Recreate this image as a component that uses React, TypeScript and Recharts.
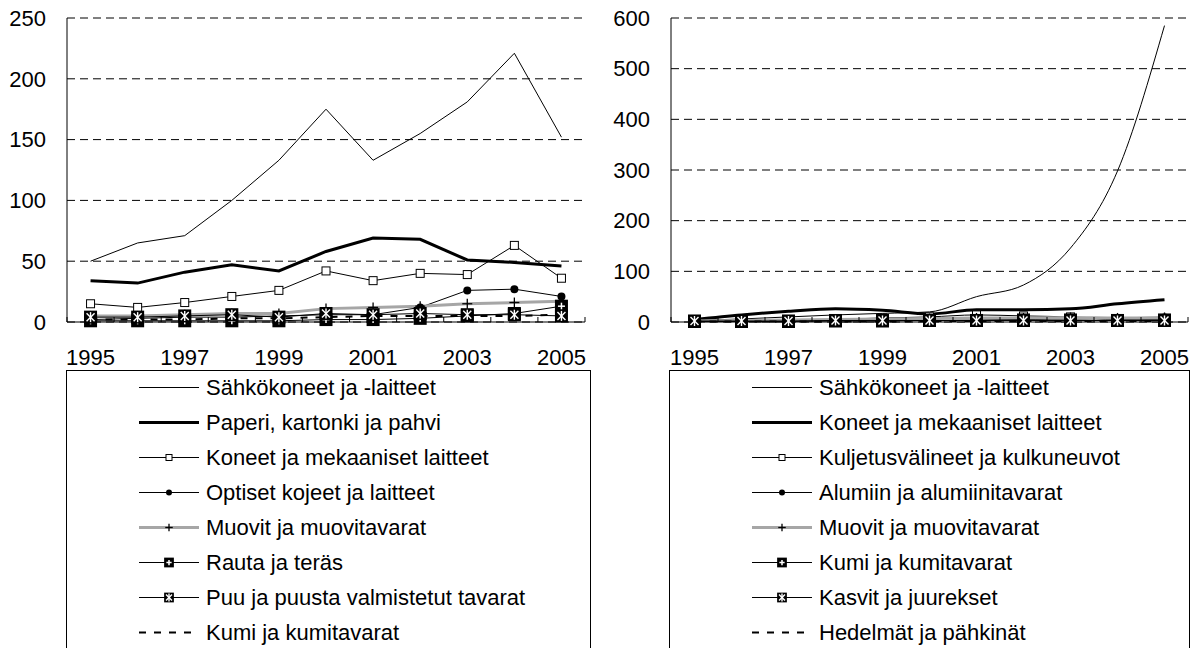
import React from "react";
import { LineChart, Line, XAxis, YAxis, CartesianGrid } from "recharts";

const years = ["1995", "1996", "1997", "1998", "1999", "2000", "2001", "2002", "2003", "2004", "2005"];

// vasen kuvio
const leftNames = [
  "Sähkökoneet ja -laitteet",
  "Paperi, kartonki ja pahvi",
  "Koneet ja mekaaniset laitteet",
  "Optiset kojeet ja laitteet",
  "Muovit ja muovitavarat",
  "Rauta ja teräs",
  "Puu ja puusta valmistetut tavarat",
  "Kumi ja kumitavarat",
];
const leftSahko = [50, 65, 71, 100, 133, 175, 133, 155, 181, 221, 152];
const leftPaperi = [34, 32, 41, 47, 42, 58, 69, 68, 51, 49, 46];
const leftKoneet = [15, 12, 16, 21, 26, 42, 34, 40, 39, 63, 36];
const leftOptiset = [2, 3, 4, 4, 5, 6, 6, 12, 26, 27, 21];
const leftMuovit = [5, 5, 6, 7, 7, 11, 12, 13, 15, 16, 17];
const leftRauta = [1, 1, 1, 1, 1, 2, 2, 3, 5, 7, 13];
const leftPuu = [4, 4, 5, 6, 4, 7, 6, 7, 6, 6, 5];
const leftKumi = [2, 2, 2, 3, 3, 4, 5, 5, 5, 5, 6];
const leftTicks = [0, 50, 100, 150, 200, 250];

// oikea kuvio
const rightNames = [
  "Sähkökoneet ja -laitteet",
  "Koneet ja mekaaniset laitteet",
  "Kuljetusvälineet ja kulkuneuvot",
  "Alumiin ja alumiinitavarat",
  "Muovit ja muovitavarat",
  "Kumi ja kumitavarat",
  "Kasvit ja juurekset",
  "Hedelmät ja pähkinät",
];
const rightSahko = [3, 6, 10, 14, 17, 20, 50, 73, 146, 298, 585];
const rightKoneet = [5, 14, 21, 26, 23, 16, 24, 24, 26, 36, 44];
const rightKuljetus = [2, 3, 4, 5, 8, 10, 14, 12, 10, 5, 6];
const rightAlumiini = [1, 2, 3, 4, 5, 7, 6, 5, 8, 6, 9];
const rightMuovit = [2, 3, 4, 5, 6, 7, 8, 8, 9, 8, 9];
const rightKumi = [1, 1, 1, 2, 2, 3, 3, 4, 4, 3, 4];
const rightKasvit = [2, 2, 2, 3, 3, 3, 3, 3, 3, 3, 3];
const rightHedelmat = [1, 1, 1, 1, 1, 2, 2, 2, 2, 2, 2];
const rightTicks = [0, 100, 200, 300, 400, 500, 600];

const FONT = "'Liberation Sans', Arial, sans-serif";
const FS = 22;
const TICK_GAP = 27;

type Marker = "none" | "square" | "circle" | "plus" | "squarePlus" | "squareX";
interface SeriesStyle {
  stroke: string;
  width: number;
  dash?: string;
  marker: Marker;
}

const seriesStyles: SeriesStyle[] = [
  { stroke: "#000", width: 1, marker: "none" },
  { stroke: "#000", width: 3, marker: "none" },
  { stroke: "#000", width: 1, marker: "square" },
  { stroke: "#000", width: 1, marker: "circle" },
  { stroke: "#a6a6a6", width: 3, marker: "plus" },
  { stroke: "#000", width: 1, marker: "squarePlus" },
  { stroke: "#000", width: 1, marker: "squareX" },
  { stroke: "#000", width: 2, dash: "7 8", marker: "none" },
];

function MarkerShape({ kind, cx, cy, s = 1 }: { kind: Marker; cx: number; cy: number; s?: number }) {
  if (kind === "square") {
    const h = 4 * s;
    return <rect x={cx - h} y={cy - h} width={2 * h} height={2 * h} fill="#fff" stroke="#000" strokeWidth={1} />;
  }
  if (kind === "circle") {
    return <circle cx={cx} cy={cy} r={4 * s} fill="#000" />;
  }
  if (kind === "plus") {
    const h = 5 * s;
    return (
      <g stroke="#000" strokeWidth={1.3}>
        <line x1={cx - h} x2={cx + h} y1={cy} y2={cy} />
        <line x1={cx} x2={cx} y1={cy - h} y2={cy + h} />
      </g>
    );
  }
  if (kind === "squarePlus") {
    const h = 6.5 * s;
    const a = 3.5 * s;
    return (
      <g>
        <rect x={cx - h} y={cy - h} width={2 * h} height={2 * h} fill="#000" />
        <line x1={cx - a} x2={cx + a} y1={cy} y2={cy} stroke="#fff" strokeWidth={1.5} />
        <line x1={cx} x2={cx} y1={cy - a} y2={cy + a} stroke="#fff" strokeWidth={1.5} />
      </g>
    );
  }
  if (kind === "squareX") {
    const h = 6.5 * s;
    const a = 4 * s;
    return (
      <g>
        <rect x={cx - h} y={cy - h} width={2 * h} height={2 * h} fill="#000" />
        <g stroke="#fff" strokeWidth={1.4}>
          <line x1={cx - a} x2={cx + a} y1={cy - a} y2={cy + a} />
          <line x1={cx - a} x2={cx + a} y1={cy + a} y2={cy - a} />
          <line x1={cx} x2={cx} y1={cy - a - 1} y2={cy + a + 1} />
        </g>
      </g>
    );
  }
  return null;
}

function makeXTick(half: number) {
  return (props: any) => {
    const { x, y, payload } = props;
    const i = years.indexOf(payload.value);
    const axisY = y - TICK_GAP;
    return (
      <g>
        <line x1={x - half} x2={x - half} y1={axisY} y2={axisY - 5} stroke="#000" />
        {i === years.length - 1 && <line x1={x + half} x2={x + half} y1={axisY} y2={axisY - 5} stroke="#000" />}
        {i % 2 === 0 && (
          <text x={x} y={y} dy="0.71em" textAnchor="middle" fontSize={FS} fontFamily={FONT} fill="#000">
            {payload.value}
          </text>
        )}
      </g>
    );
  };
}

interface PanelProps {
  series: number[][];
  ticks: number[];
  width: number;
  yWidth: number;
  right: number;
  curve: "linear" | "monotone";
}

function Panel({ series, ticks, width, yWidth, right, curve }: PanelProps) {
  const rows = years.map((year, i) => {
    const row: Record<string, string | number> = { year };
    series.forEach((s, k) => (row["s" + k] = s[i]));
    return row;
  });
  const plotW = width - yWidth - right;
  const pad = plotW / 22;
  const max = ticks[ticks.length - 1];
  return (
    <LineChart width={width} height={380} data={rows} margin={{ top: 18, right, bottom: 18, left: 0 }}>
      <CartesianGrid vertical={false} stroke="#000" strokeDasharray="8 5" />
      <XAxis
        dataKey="year"
        interval={0}
        padding={{ left: pad, right: pad }}
        height={40}
        tickSize={0}
        tickMargin={TICK_GAP}
        tickLine={false}
        axisLine={{ stroke: "#000" }}
        tick={makeXTick(pad)}
      />
      <XAxis
        xAxisId="top"
        orientation="top"
        dataKey="year"
        height={0}
        tick={false}
        tickLine={false}
        axisLine={{ stroke: "#000" }}
      />
      <YAxis
        domain={[0, max]}
        ticks={ticks}
        width={yWidth}
        tickSize={0}
        tickMargin={21}
        tickLine={false}
        axisLine={{ stroke: "#000" }}
        tick={{ fontSize: FS, fill: "#000", fontFamily: FONT }}
      />
      <YAxis
        yAxisId="right"
        orientation="right"
        domain={[0, 1]}
        width={0}
        tick={false}
        tickLine={false}
        axisLine={{ stroke: "#000" }}
      />
      {series.map((_, k) => {
        const st = seriesStyles[k];
        return (
          <Line
            key={k}
            type={curve}
            dataKey={"s" + k}
            stroke={st.stroke}
            strokeWidth={st.width}
            strokeDasharray={st.dash}
            isAnimationActive={false}
            dot={
              st.marker === "none"
                ? false
                : (p: any) => <MarkerShape key={p.index} kind={st.marker} cx={p.cx} cy={p.cy} />
            }
            activeDot={false}
          />
        );
      })}
    </LineChart>
  );
}

function LegendBox({ names, left, width, sampleLeft }: { names: string[]; left: number; width: number; sampleLeft: number }) {
  const ROW = 35;
  return (
    <div
      style={{
        position: "absolute",
        left,
        top: 370,
        width,
        height: 320,
        border: "1px solid #000",
        boxSizing: "border-box",
        background: "#fff",
      }}
    >
      {names.map((n, i) => {
        const st = seriesStyles[i];
        return (
          <div
            key={n}
            style={{ position: "absolute", left: sampleLeft, top: i * ROW - 1, height: ROW, display: "flex", alignItems: "center" }}
          >
            <svg width={60} height={ROW} style={{ display: "block" }}>
              <line
                x1={0}
                x2={60}
                y1={ROW / 2}
                y2={ROW / 2}
                stroke={st.stroke}
                strokeWidth={st.width}
                strokeDasharray={st.dash}
              />
              <MarkerShape kind={st.marker} cx={30} cy={ROW / 2} s={0.75} />
            </svg>
            <span style={{ marginLeft: 7, fontSize: FS, fontFamily: FONT, color: "#000", whiteSpace: "nowrap" }}>{n}</span>
          </div>
        );
      })}
    </div>
  );
}

export default function App() {
  const leftSeries = [leftSahko, leftPaperi, leftKoneet, leftOptiset, leftMuovit, leftRauta, leftPuu, leftKumi];
  const rightSeries = [rightSahko, rightKoneet, rightKuljetus, rightAlumiini, rightMuovit, rightKumi, rightKasvit, rightHedelmat];
  return (
    <div
      style={{
        position: "absolute",
        left: 0,
        top: 0,
        width: 1197,
        height: 648,
        overflow: "hidden",
        background: "#fff",
        fontFamily: FONT,
      }}
    >
      <div style={{ position: "absolute", left: 0, top: 0 }}>
        <Panel series={leftSeries} ticks={leftTicks} width={600} yWidth={67} right={15} curve="linear" />
      </div>
      <div style={{ position: "absolute", left: 600, top: 0 }}>
        <Panel series={rightSeries} ticks={rightTicks} width={597} yWidth={71} right={9} curve="monotone" />
      </div>
      <LegendBox names={leftNames} left={66} width={525} sampleLeft={72} />
      <LegendBox names={rightNames} left={669} width={521} sampleLeft={82} />
    </div>
  );
}
